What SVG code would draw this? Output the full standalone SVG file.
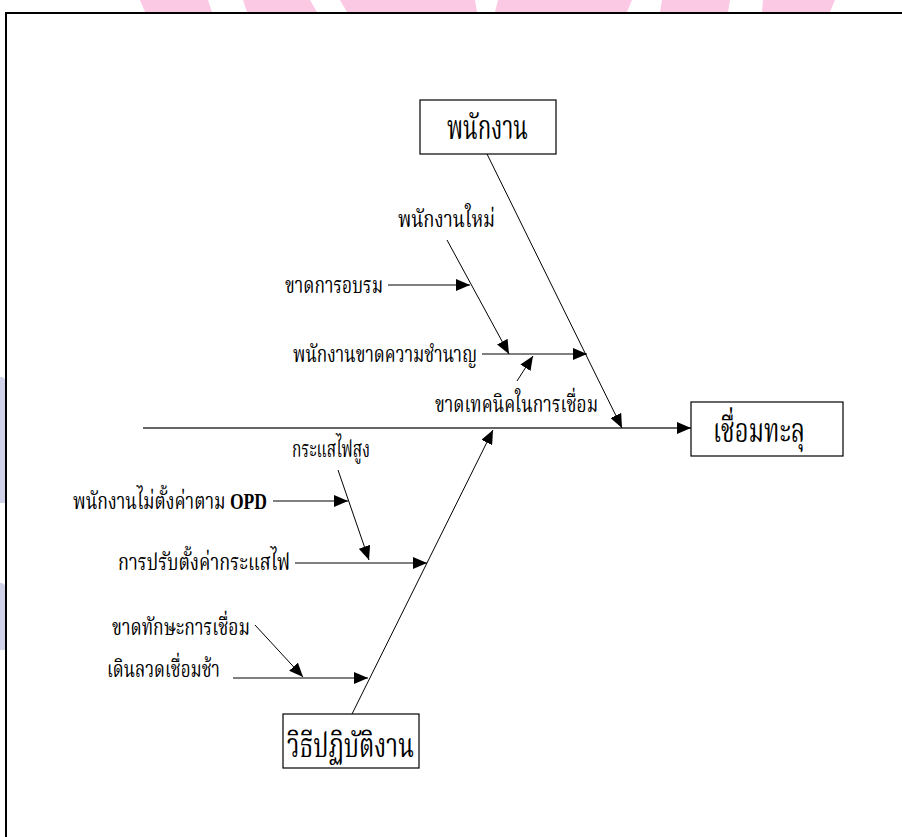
<svg xmlns="http://www.w3.org/2000/svg" width="902" height="837" viewBox="0 0 902 837">
  <style>
    .lbl { font-family: "Liberation Serif", "Noto Serif Thai", "Noto Sans Thai", serif; font-size: 23px; fill: #000; }
    .head { font-family: "Liberation Serif", "Noto Serif Thai", "Noto Sans Thai", serif; font-size: 33px; fill: #000; }
    .box { fill: #fff; stroke: #000; stroke-width: 1.2; }
    .bone { stroke: #000; stroke-width: 1; fill: none; marker-end: url(#tip); }
    .spine { stroke: #333; stroke-width: 1.6; fill: none; marker-end: url(#tip); }
  </style>
  <defs>
    <marker id="tip" markerUnits="userSpaceOnUse" markerWidth="14" markerHeight="12" viewBox="0 0 14 12" refX="14" refY="6" orient="auto">
      <path d="M0,0 L14,6 L0,12 Z" fill="#000"/>
    </marker>
  </defs>

  <rect width="902" height="837" fill="#fff"/>

  <!-- page decoration bands -->
  <g id="decor" fill="#fcc9e4">
    <polygon points="140,0 208,0 212,12 145,12"/>
    <polygon points="243,0 310,0 317,12 247,12"/>
    <polygon points="340,0 475,0 477,12 347,12"/>
    <polygon points="498,0 632,0 627,12 495,12"/>
    <polygon points="662,0 730,0 728,12 660,12"/>
    <polygon points="763,0 835,0 830,12 762,12"/>
  </g>
  <g id="decor-side" fill="#cfd2e8">
    <path d="M0,377 L2,377 Q7,379 7,390 L7,503 L0,503 Z"/>
    <path d="M0,583 L2,583 Q7,585 7,596 L7,650 L0,650 Z"/>
  </g>

  <!-- page frame -->
  <path d="M6,837 L6,13 L902,13" fill="none" stroke="#000" stroke-width="2"/>

  <!-- connectors -->
  <g id="connectors">
    <line class="spine" x1="143" y1="428" x2="691" y2="428"/>
    <line class="bone" x1="487" y1="154" x2="622" y2="428"/>
    <line class="bone" x1="352" y1="714" x2="493" y2="430"/>
    <line class="bone" x1="447" y1="240" x2="509" y2="354"/>
    <line class="bone" x1="388" y1="285" x2="470" y2="285"/>
    <line class="bone" x1="482" y1="354" x2="587" y2="354"/>
    <line class="bone" x1="517" y1="381" x2="533" y2="356"/>
    <line class="bone" x1="338" y1="470" x2="369" y2="560"/>
    <line class="bone" x1="273" y1="501" x2="348" y2="501"/>
    <line class="bone" x1="295" y1="563" x2="427" y2="563"/>
    <line class="bone" x1="255" y1="625" x2="303" y2="677"/>
    <line class="bone" x1="233" y1="678" x2="368" y2="678"/>
  </g>

  <!-- category and effect boxes -->
  <g id="node-staff">
    <rect class="box" x="420" y="100" width="136" height="54"/>
    <text class="head" x="447" y="139" textLength="81" lengthAdjust="spacingAndGlyphs">พนักงาน</text>
  </g>
  <g id="node-method">
    <rect class="box" x="283" y="714" width="136" height="54"/>
    <text class="head" x="287" y="757" textLength="127" lengthAdjust="spacingAndGlyphs">วิธีปฏิบัติงาน</text>
  </g>
  <g id="node-effect">
    <rect class="box" x="691" y="402" width="152" height="54"/>
    <text class="head" x="713" y="442" textLength="92" lengthAdjust="spacingAndGlyphs">เชื่อมทะลุ</text>
  </g>

  <!-- cause labels -->
  <g id="node-new-staff"><text class="lbl" x="398" y="227" textLength="97" lengthAdjust="spacingAndGlyphs">พนักงานใหม่</text></g>
  <g id="node-no-training"><text class="lbl" x="285" y="293" textLength="98" lengthAdjust="spacingAndGlyphs">ขาดการอบรม</text></g>
  <g id="node-no-skill"><text class="lbl" x="293" y="362" textLength="184" lengthAdjust="spacingAndGlyphs">พนักงานขาดความชำนาญ</text></g>
  <g id="node-no-technique"><text class="lbl" x="435" y="412" textLength="163" lengthAdjust="spacingAndGlyphs">ขาดเทคนิคในการเชื่อม</text></g>
  <g id="node-high-current"><text class="lbl" x="292" y="457" textLength="78" lengthAdjust="spacingAndGlyphs">กระแสไฟสูง</text></g>
  <g id="node-no-opd"><text class="lbl" x="73" y="509" textLength="194" lengthAdjust="spacingAndGlyphs">พนักงานไม่ตั้งค่าตาม <tspan font-weight="bold">OPD</tspan></text></g>
  <g id="node-current-setting"><text class="lbl" x="118" y="570" textLength="172" lengthAdjust="spacingAndGlyphs">การปรับตั้งค่ากระแสไฟ</text></g>
  <g id="node-weld-skill"><text class="lbl" x="112" y="635" textLength="138" lengthAdjust="spacingAndGlyphs">ขาดทักษะการเชื่อม</text></g>
  <g id="node-slow-feed"><text class="lbl" x="107" y="677" textLength="113" lengthAdjust="spacingAndGlyphs">เดินลวดเชื่อมช้า</text></g>
</svg>
